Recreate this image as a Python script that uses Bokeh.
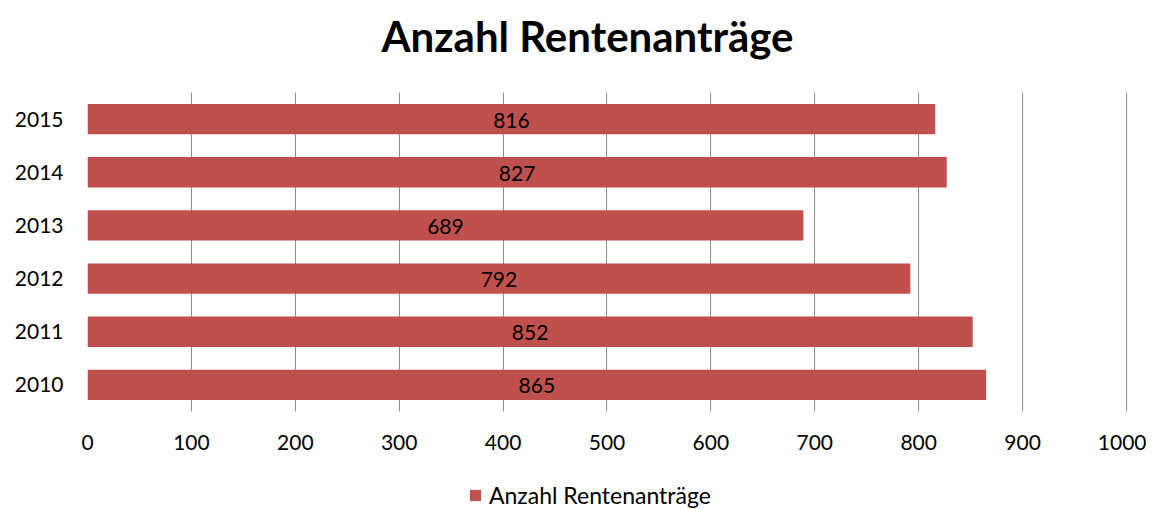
from bokeh.plotting import figure
from bokeh.layouts import column
from bokeh.models import ColumnDataSource, Legend, LegendItem, FactorRange, Range1d, SingleIntervalTicker, Label
from bokeh.core.properties import value
from bokeh.embed import file_html
from bokeh.resources import INLINE

years = ["2010", "2011", "2012", "2013", "2014", "2015"]
counts = [865, 852, 792, 689, 827, 816]
series_name = "Anzahl Rentenanträge"
title_text = "Anzahl Rentenanträge"

FONT = "Lato"
BAR = "#C0504D"
LEFT, FRAME_W, RIGHT = 87, 1040, 19


def strip(height):
    f = figure(frame_width=FRAME_W, frame_height=height, output_backend="svg", toolbar_location=None,
               x_range=Range1d(0, 1), y_range=Range1d(0, 1),
               x_axis_location=None, y_axis_location=None,
               min_border_left=LEFT, min_border_right=RIGHT, min_border_top=0, min_border_bottom=0)
    f.outline_line_color = None
    f.grid.grid_line_color = None
    return f


# title strip
p0 = strip(70)
p0.add_layout(Label(x=500, y=35, x_units="screen", y_units="screen", text=title_text,
                    text_align="center", text_baseline="middle", text_font=FONT,
                    text_font_style="bold", text_font_size="42px", text_color="black"))

src = ColumnDataSource(dict(
    y=years, v=counts, mid=[c / 2 for c in counts], lab=[str(c) for c in counts]))

p = figure(frame_width=FRAME_W, frame_height=319, output_backend="svg", toolbar_location=None,
           y_range=FactorRange(*years, range_padding=0), x_range=Range1d(0, 1001),
           min_border_left=LEFT, min_border_right=RIGHT, min_border_top=22, min_border_bottom=58)
p.outline_line_color = None

r = p.hbar(y="y", right="v", left=0, height=0.57, source=src, fill_color=BAR, line_color=None)
p.text(x="mid", y="y", text="lab", source=src, text_align="center", text_baseline="middle",
       text_font=value(FONT), text_font_size="21px", text_color="black", y_offset=1)

p.xaxis.ticker = SingleIntervalTicker(interval=100)
p.xgrid.ticker = SingleIntervalTicker(interval=100)
p.xgrid.grid_line_color = "#8c8c8c"
p.xgrid.grid_line_width = 1
p.ygrid.grid_line_color = None
for ax in (p.xaxis, p.yaxis):
    ax.axis_line_color = None
    ax.major_tick_line_color = None
    ax.minor_tick_line_color = None
    ax.major_label_text_font = FONT
    ax.major_label_text_font_size = "21px"
    ax.major_label_text_color = "black"
p.xaxis.major_label_standoff = 17
p.yaxis.major_label_standoff = 18

# legend strip below the chart
p2 = strip(40)
# legend swatch renderer: one bar placed outside the strip's visible range
r2 = p2.hbar(y=[5], right=[5], left=[4], height=0.5, fill_color=BAR, line_color=None)
legend = Legend(items=[LegendItem(label=series_name, renderers=[r2])], location=(381, 0),
                orientation="horizontal", border_line_color=None, background_fill_alpha=0,
                padding=0, margin=0, glyph_width=14, glyph_height=14, label_standoff=7,
                label_text_font=FONT, label_text_font_size="23px", label_text_color="black",
                label_height=24)
p2.add_layout(legend, "center")

layout = column(p0, p, p2, spacing=0)
open("out.html", "w").write(file_html(layout, INLINE))
